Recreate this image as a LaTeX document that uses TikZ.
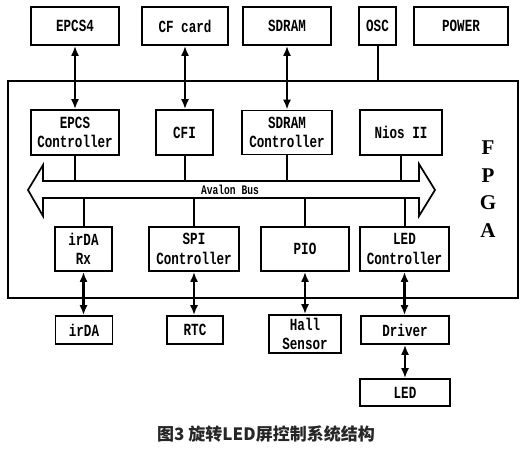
\documentclass[tikz,border=0pt]{standalone}
\usepackage{fontspec}
\usetikzlibrary{arrows.meta}
\newfontfamily\lblfont[FakeStretch=0.74]{Liberation Mono}
\newfontfamily\fpgafont{Liberation Serif}
\newfontfamily\cjk{Noto Sans CJK SC}
\begin{document}
\begin{tikzpicture}[x=1pt,y=-1pt,
  box/.style={draw, line width=1.7pt, inner sep=0pt, align=center,
    font=\lblfont\bfseries\fontsize{17}{19.5}\selectfont},
  dbl/.style={line width=2.2pt, {Latex[length=10pt,width=8pt]}-{Latex[length=10pt,width=8pt]}},
  wire/.style={line width=2pt}]
\useasboundingbox (0,0) rectangle (532,451);
% top row
\node[box, minimum width=88pt, minimum height=38pt] (epcs4) at (75,26) {EPCS4};
\node[box, minimum width=86pt, minimum height=38pt] (cf) at (185,26) {CF card};
\node[box, minimum width=88pt, minimum height=38pt] (sdram) at (287,26) {SDRAM};
\node[box, minimum width=37pt, minimum height=38pt] (osc) at (377.5,26) {OSC};
\node[box, minimum width=94pt, minimum height=38pt] (power) at (461,26) {POWER};
% FPGA frame
\node[draw, line width=1.7pt, minimum width=510pt, minimum height=217pt, inner sep=0pt] (fpga) at (263,189.5) {};
\node[font=\fpgafont\bfseries\fontsize{21}{27.5}\selectfont, align=center, inner sep=0pt] (fpgalbl) at (488,189) {F\\P\\G\\A};
% second row
\node[box, minimum width=88pt, minimum height=45pt] (epcsc) at (75,132.5) {EPCS\\Controller};
\node[box, minimum width=57pt, minimum height=45pt] (cfi) at (184.5,132.5) {CFI};
\node[box, minimum width=90pt, minimum height=44pt] (sdramc) at (287,132.5) {SDRAM\\Controller};
\node[box, minimum width=82pt, minimum height=45pt] (nios) at (401,132.5) {Nios II};
% bus
\draw[line width=1.7pt, line join=miter, fill=white]
  (28,190) -- (43,165) -- (43,181) -- (419,181) -- (419,164) -- (435,190)
  -- (419,216) -- (419,198) -- (43,198) -- (43,216) -- cycle;
\node[font=\lblfont\bfseries\fontsize{13}{15}\selectfont, inner sep=0pt] (avalon) at (230,189.5) {Avalon Bus};
\coordinate (bustop) at (0,181);
\coordinate (busbot) at (0,198);
% third row
\node[box, minimum width=57pt, minimum height=44pt] (irrx) at (83.5,249) {irDA\\Rx};
\node[box, minimum width=90pt, minimum height=44pt] (spi) at (194,249) {SPI\\Controller};
\node[box, minimum width=88pt, minimum height=44pt] (pio) at (305,249) {PIO};
\node[box, minimum width=89pt, minimum height=44pt] (ledc) at (404.5,249) {LED\\Controller};
% bottom row
\node[box, minimum width=57pt, minimum height=28pt] (irda) at (84,330) {irDA};
\node[box, minimum width=56pt, minimum height=28pt] (rtc) at (195,330) {RTC};
\node[box, minimum width=72pt, minimum height=38pt] (hall) at (305,334) {Hall\\Sensor};
\node[box, minimum width=88pt, minimum height=28pt] (driver) at (405,330) {Driver};
\node[box, minimum width=90pt, minimum height=27pt] (led) at (405,392.5) {LED};
% connectors
\draw[dbl] (epcs4.south) -- (epcsc.north);
\draw[dbl] (cf.south) -- (cf.south |- cfi.north);
\draw[dbl] (sdram.south) -- (sdramc.north);
\draw[wire] (osc.south) -- (osc.south |- fpga.north);
\draw[wire] (epcsc.south) -- (epcsc.south |- bustop);
\draw[wire] (cfi.south) -- (cfi.south |- bustop);
\draw[wire] (sdramc.south) -- (sdramc.south |- bustop);
\draw[wire] (nios.south) -- (nios.south |- bustop);
\draw[wire] (irrx.north) -- (irrx.north |- busbot);
\draw[wire] (spi.north) -- (spi.north |- busbot);
\draw[wire] (pio.north) -- (pio.north |- busbot);
\draw[wire] (ledc.north) -- (ledc.north |- busbot);
\draw[dbl] (irrx.south) -- (irrx.south |- irda.north);
\draw[dbl] (spi.south) -- (spi.south |- rtc.north);
\draw[dbl] (pio.south) -- (hall.north);
\draw[dbl] (ledc.south) -- (ledc.south |- driver.north);
\draw[dbl] (driver.south) -- (led.north);
% caption
\node[font=\cjk\bfseries\fontsize{17}{20}\selectfont, text=black!85, inner sep=0pt] (caption) at (266,434) {图3 旋转LED屏控制系统结构};
\end{tikzpicture}
\end{document}
